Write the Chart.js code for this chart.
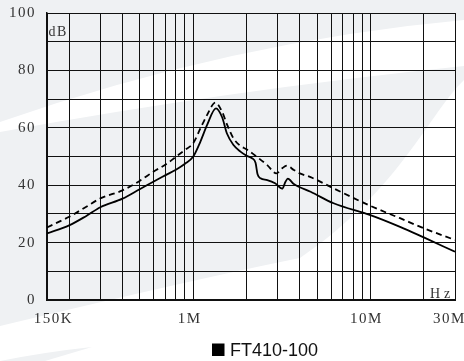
<!DOCTYPE html>
<html>
<head>
<meta charset="utf-8">
<script src="https://cdn.jsdelivr.net/npm/chart.js@4/dist/chart.umd.min.js"></script>
<style>
  html, body { margin: 0; padding: 0; background: #fff; }
  canvas { display: block; }
</style>
</head>
<body>
<canvas id="chart" width="464" height="361"></canvas>
<script>
// Insertion loss of the FT410-100 filter, frequency in Hz, attenuation in dB
const solidFreq = [150e3, 200e3, 250e3, 300e3, 400e3, 500e3, 600e3, 700e3, 800e3, 900e3,
  1.0e6, 1.1e6, 1.2e6, 1.345e6, 1.46e6, 1.55e6, 1.69e6, 1.85e6,
  2.0e6, 2.15e6, 2.25e6, 2.31e6, 2.4e6, 2.62e6, 2.9e6,
  3.18e6, 3.32e6, 3.42e6, 3.7e6, 4.0e6, 4.6e6, 6.2e6,
  10e6, 14.7e6, 20e6, 30e6];
const solidDb = [23.2, 26.0, 29.3, 32.3, 35.3, 38.6, 41.3, 43.5, 45.4, 47.5,
  49.9, 55.2, 61.0, 66.8, 63.6, 58.1, 54.0, 51.7,
  50.3, 49.4, 47.8, 43.8, 42.4, 41.8, 40.7,
  38.8, 41.2, 42.3, 40.4, 39.3, 37.7, 33.7,
  29.6, 25.5, 21.8, 16.8];

const dashedFreq = [150e3, 200e3, 250e3, 300e3, 400e3, 500e3, 600e3, 700e3, 800e3, 900e3,
  1.0e6, 1.1e6, 1.2e6, 1.335e6, 1.46e6, 1.55e6, 1.69e6, 1.85e6,
  2.0e6, 2.3e6, 2.62e6, 2.95e6,
  3.18e6, 3.38e6, 3.7e6, 4.0e6, 4.6e6, 6.2e6,
  10e6, 14.7e6, 20e6, 30e6];
const dashedDb = [25.3, 29.0, 32.5, 35.4, 38.2, 41.5, 44.8, 47.2, 49.9, 52.3,
  54.6, 59.8, 64.5, 68.8, 65.5, 61.3, 56.3, 53.7,
  52.5, 49.8, 47.0, 44.1,
  45.9, 46.8, 45.3, 44.1, 42.8, 38.9,
  32.8, 28.5, 25.0, 20.9];

// Vertical grid: 1-2-...-9 steps of every decade
const gridFreqs = [150e3, 200e3, 300e3, 400e3, 500e3, 600e3, 700e3, 800e3, 900e3,
  1e6, 2e6, 3e6, 4e6, 5e6, 6e6, 7e6, 8e6, 9e6, 10e6, 20e6, 30e6];
const freqTickValues = [150e3, 1e6, 10e6, 30e6];
const freqTickLabels = ['150K', '1M', '10M', '30M'];
const yUnit = 'dB';
const xUnit = 'Hz';
const legendText = 'FT410-100';

const zip = (xs, ys) => xs.map((x, i) => ({ x: x, y: ys[i] }));

const SERIF = '"Liberation Serif", "DejaVu Serif", serif';
const INK = '#111';
const LABEL = '#333';

// Light grey swooshes behind the grid
const backdrop = {
  id: 'backdrop',
  beforeDraw(chart) {
    const ctx = chart.ctx;
    ctx.save();
    ctx.fillStyle = '#fff';
    ctx.fillRect(0, 0, chart.width, chart.height);
    ctx.fillStyle = '#eff1f3';
    ctx.beginPath();
    ctx.moveTo(0, 0);
    ctx.lineTo(464, 0);
    ctx.lineTo(464, 20);
    ctx.quadraticCurveTo(232, 41, 0, 122);
    ctx.closePath();
    ctx.fill();
    ctx.beginPath();
    ctx.moveTo(0, 132);
    ctx.quadraticCurveTo(230, 90, 464, 66);
    ctx.lineTo(464, 80);
    ctx.bezierCurveTo(430, 112, 400, 190, 300, 258);
    ctx.quadraticCurveTo(200, 278, 0, 326);
    ctx.closePath();
    ctx.fill();
    ctx.beginPath();
    ctx.moveTo(0, 361);
    ctx.quadraticCurveTo(45, 352, 92, 347);
    ctx.lineTo(45, 361);
    ctx.closePath();
    ctx.fill();
    ctx.restore();
    ctx.letterSpacing = '1.5px';
  }
};

// Frequency labels, unit labels and the legend swatch
const annotations = {
  id: 'annotations',
  afterDraw(chart) {
    const ctx = chart.ctx;
    const xs = chart.scales.x;
    const area = chart.chartArea;
    const nudges = [6.5, -3.5, -4, -5.5];
    ctx.save();
    ctx.fillStyle = LABEL;
    ctx.font = '15px ' + SERIF;
    ctx.letterSpacing = '1.5px';
    ctx.textAlign = 'center';
    ctx.textBaseline = 'alphabetic';
    freqTickValues.forEach((f, i) => {
      ctx.fillText(freqTickLabels[i], xs.getPixelForValue(f) + nudges[i], area.bottom + 22.5);
    });
    ctx.textAlign = 'left';
    ctx.font = '14px ' + SERIF;
    ctx.fillText(yUnit, area.left + 1.5, area.top + 22.5);
    ctx.letterSpacing = '4px';
    ctx.fillText(xUnit, area.right - 25, area.bottom - 2);
    ctx.letterSpacing = '0px';
    ctx.fillStyle = '#000';
    ctx.fillRect(212, 343.5, 12.5, 12.5);
    ctx.font = '18px "Liberation Sans", Arial, sans-serif';
    ctx.fillStyle = '#111';
    ctx.fillText(legendText, 230, 356);
    ctx.restore();
  }
};

new Chart(document.getElementById('chart'), {
  type: 'line',
  data: {
    datasets: [
      {
        label: legendText + ' (solid trace)',
        data: zip(solidFreq, solidDb),
        borderColor: '#000',
        borderWidth: 1.8,
        pointRadius: 0,
        fill: false,
        cubicInterpolationMode: 'monotone'
      },
      {
        label: legendText + ' (dashed trace)',
        data: zip(dashedFreq, dashedDb),
        borderColor: '#000',
        borderWidth: 1.8,
        borderDash: [6, 4],
        pointRadius: 0,
        fill: false,
        cubicInterpolationMode: 'monotone'
      }
    ]
  },
  options: {
    responsive: false,
    animation: false,
    devicePixelRatio: 1,
    layout: { padding: { top: 13, right: 9, left: 0, bottom: 0 } },
    plugins: {
      legend: { display: false },
      tooltip: { enabled: false }
    },
    scales: {
      x: {
        type: 'logarithmic',
        min: 150e3,
        max: 30e6,
        afterBuildTicks: (s) => { s.ticks = gridFreqs.map(v => ({ value: v })); },
        afterFit: (s) => { s.height = 61; s.paddingLeft = 0; s.paddingRight = 0; },
        ticks: { display: false, autoSkip: false },
        grid: { color: INK, lineWidth: 1, drawTicks: false },
        border: { display: true, color: INK, width: 2 }
      },
      y: {
        type: 'linear',
        min: 0,
        max: 100,
        afterFit: (s) => { s.width = 47; s.paddingTop = 0; s.paddingBottom = 0; },
        ticks: {
          stepSize: 10,
          autoSkip: false,
          padding: 11,
          color: LABEL,
          font: { family: SERIF, size: 15 },
          callback: (v) => (v % 20 === 0 ? String(v) : '')
        },
        grid: { color: INK, lineWidth: 1, drawTicks: false },
        border: { display: true, color: INK, width: 1.5 }
      }
    }
  },
  plugins: [backdrop, annotations]
});
</script>
</body>
</html>
